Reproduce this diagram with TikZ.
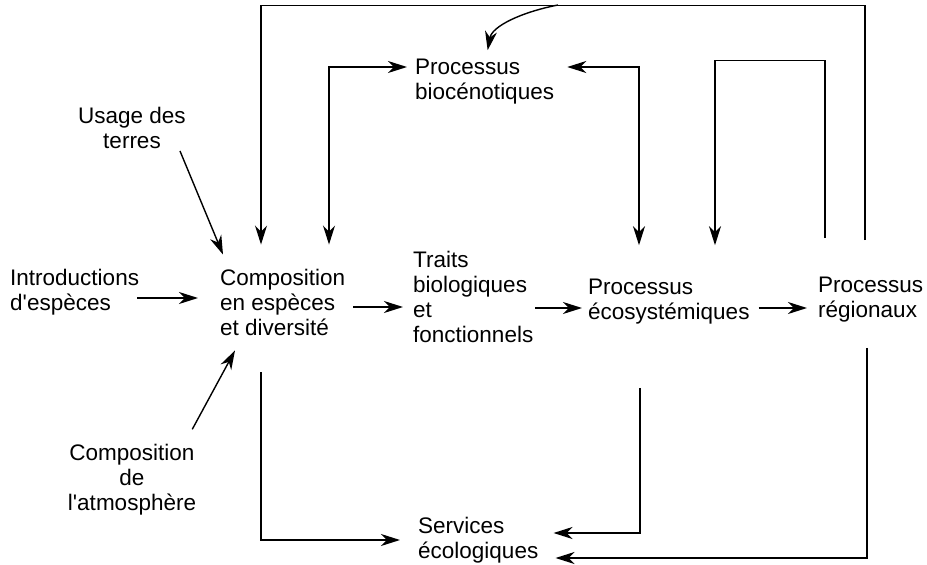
\documentclass[tikz,border=0pt]{standalone}
\usepackage{fontspec}
\setmainfont{Liberation Sans}
\usetikzlibrary{arrows.meta}
\tikzstyle{proctext}=[inner sep=0pt, font=\fontsize{22.5}{25}\selectfont]
\tikzstyle{flow}=[-{Stealth[length=19pt,width=12pt,inset=6pt]},line width=1.4pt]
\tikzstyle{twoway}=[{Stealth[length=19pt,width=12pt,inset=6pt]}-{Stealth[length=19pt,width=12pt,inset=6pt]},line width=1.4pt]

\begin{document}
\begin{tikzpicture}[x=1pt,y=-1pt]
  \useasboundingbox (0,0) rectangle (927,565);
  \begin{scope}
  % drivers
  \node[proctext, align=center] (usage) at (132,128) {Usage des\\terres};
  \node[proctext, align=left, anchor=west] (intro) at (10,292) {Introductions\\d\textquotesingle esp\`eces};
  \node[proctext, align=center] (atmos) at (132,480) {Composition\\de\\l\textquotesingle atmosph\`ere};
  % main chain
  \node[proctext, align=left, anchor=west] (compo) at (220,302) {Composition\\en espèces\\et diversité};
  \node[proctext, align=left, anchor=west] (traits) at (413,297) {Traits\\biologiques\\et\\fonctionnels};
  \node[proctext, align=left, anchor=west] (ecosys) at (588,302) {Processus\\écosystémiques};
  \node[proctext, align=left, anchor=west] (regio) at (818,300) {Processus\\régionaux};
  \node[proctext, align=left, anchor=west] (biocen) at (415,82) {Processus\\biocénotiques};
  \node[proctext, align=left, anchor=west] (services) at (418,540) {Services\\écologiques};
  \coordinate (bendstart) at (558,5);

  % arrow ends along the main row
  \coordinate (introout) at ([xshift=-2pt,yshift=-6pt]intro.east);
  \coordinate (compoin) at ([xshift=-22pt]compo.west);
  \coordinate (compoout) at ([xshift=8pt,yshift=-5pt]compo.east);
  \coordinate (traitsin) at ([xshift=-10pt]traits.west);
  \coordinate (traitsout) at ([xshift=2pt,yshift=-11pt]traits.east);
  \coordinate (ecosysin) at ([xshift=-6pt]ecosys.west);
  \coordinate (ecosysout) at ([xshift=9pt,yshift=-6pt]ecosys.east);
  \coordinate (regioin) at ([xshift=-11pt]regio.west);

  \draw[flow] ([xshift=-6pt,yshift=-2pt]usage.south east) -- ([xshift=3pt,yshift=14pt]compo.north west);
  \draw[flow] ([xshift=-4pt,yshift=15pt]atmos.north east) -- ([xshift=15pt,yshift=-15pt]compo.south west);
  \draw[flow] (introout) -- (introout -| compoin);
  \draw[flow] (compoout) -- (compoout -| traitsin);
  \draw[flow] (traitsout) -- (traitsout -| ecosysin);
  \draw[flow] (ecosysout) -- (ecosysout -| regioin);

  % feedback loops above
  \draw[flow] ([xshift=47pt,yshift=37pt]regio.north west) -- ++(0,-235) -| ([xshift=41pt,yshift=24pt]compo.north west); %outer
  \draw[flow] (bendstart) .. controls (522,12) and (492,26) .. ([xshift=3pt,yshift=9pt]biocen.north);
  \draw[twoway] ([xshift=109pt,yshift=24pt]compo.north west) |- ([xshift=-8pt,yshift=15pt]biocen.west);
  \draw[twoway] ([xshift=13pt,yshift=15pt]biocen.east) -| ([xshift=51pt,yshift=34pt]ecosys.north west);
  \draw[flow] ([xshift=7pt,yshift=39pt]regio.north west) -- ++(0,-178) -| ([xshift=127pt,yshift=34pt]ecosys.north west); %inner

  % towards services
  \draw[flow] ([xshift=41pt,yshift=-37pt]compo.south west) |- ([xshift=-18pt]services.west);
  \draw[flow] ([xshift=52pt,yshift=-63pt]ecosys.south west) |- ([xshift=15pt,yshift=7pt]services.east);
  \draw[flow] ([xshift=49pt,yshift=-25pt]regio.south west) |- ([xshift=17pt,yshift=-18pt]services.east);
  \end{scope}
\end{tikzpicture}
\end{document}
